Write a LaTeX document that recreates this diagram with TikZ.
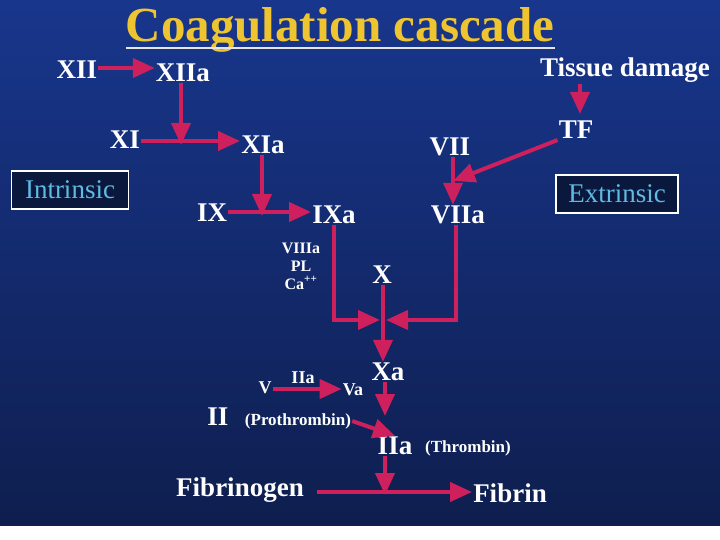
\documentclass[tikz,border=0pt]{standalone}
\usepackage{fontspec}
\setmainfont{Liberation Serif}
\usetikzlibrary{arrows.meta}

\definecolor{bgtop}{RGB}{24,54,140}
\definecolor{bgbot}{RGB}{14,30,78}
\definecolor{arrowred}{RGB}{205,32,92}
\definecolor{titlegold}{RGB}{238,196,48}
\definecolor{tagblue}{RGB}{96,186,226}
\definecolor{tagfill}{RGB}{10,24,62}

\tikzset{
  lab/.style={text=white, inner sep=1pt, font=\bfseries\fontsize{27}{29}\selectfont},
  sublab/.style={text=white, inner sep=1pt, font=\bfseries\fontsize{18}{18}\selectfont},
  paren/.style={sublab, font=\bfseries\fontsize{17}{17}\selectfont},
  tag/.style={draw=white, line width=1.4pt, fill=tagfill, text=tagblue, inner sep=0pt,
    minimum height=38pt, font=\fontsize{27}{27}\selectfont},
  link/.style={draw=arrowred, line width=4pt},
  flow/.style={link, -{Triangle[length=22pt,width=19pt]}}
}

\begin{document}
\begin{tikzpicture}[x=1pt,y=-1pt]
\useasboundingbox (0,0) rectangle (720,540);
\shade[top color=bgtop, bottom color=bgbot] (0,0) rectangle (720,525);

% title
\node (title) [anchor=base, text=titlegold, inner sep=0pt, font=\bfseries\fontsize{49}{49}\selectfont] at (340,42) {Coagulation cascade};
\draw[white!80!gray, line width=1.5pt] (126,48) -- (555,48);

% intrinsic side
\node (xii) [lab] at (77,70) {XII};
\node (xiia) [lab] at (183,73) {XIIa};
\node (xi) [lab] at (125,140) {XI};
\node (xia) [lab] at (263,145) {XIa};
\node (ix) [lab] at (212,213) {IX};
\node (ixa) [lab] at (334,215) {IXa};
\node (intr) [tag, minimum width=117pt] at (70,190) {Intrinsic};

% extrinsic side
\node (tissue) [lab] at (625,70) {Tissue damage};
\node (tf) [lab] at (576,130) {TF};
\node (vii) [lab] at (450,147) {VII};
\node (viia) [lab] at (458,215) {VIIa};
\node (extr) [tag, minimum width=122pt] at (617,194) {Extrinsic};

% cofactors
\node (cofac) [sublab, align=center, font=\bfseries\fontsize{16}{18}\selectfont] at (301,266) {VIIIa\\PL\\Ca\textsuperscript{++}};

% common pathway
\node (x) [lab] at (382,275) {X};
\node (xa) [lab] at (388,372) {Xa};
\node (v) [sublab] at (265,388) {V};
\node (iiacat) [sublab] at (303,378) {IIa};
\node (va) [sublab] at (353,390) {Va};
\node (ii) [lab] at (218,417) {II};
\node (prot) [paren] at (298,421) {(Prothrombin)};
\node (iia) [lab] at (395,446) {IIa};
\node (thromb) [paren] at (468,448) {(Thrombin)};
\node (fibgen) [lab] at (240,490) {Fibrinogen};
\node (fibrin) [lab] at (510,493) {Fibrin};

% meeting points
\coordinate (j1) at (181,141);
\coordinate (j2) at (262,212);
\coordinate (j3) at (453,181);
\coordinate (meet) at (383,320);
\coordinate (j4) at (385,492);

\draw [flow] (xii.east |- 0,68) -- (xiia.west |- 0,68);
\draw [flow] (xi.east |- j1) -- (xia.west |- j1);
\draw [flow] (xiia.south -| j1) -- ([yshift=-4pt]j1);
\draw [flow] (ix.east |- j2) -- (ixa.west |- j2);
\draw [flow] (xia.south -| j2) -- ([yshift=-4pt]j2);

\draw [flow] (tissue.south -| 580,0) -- (580,114);
\draw [flow] (tf.south west) -- (j3);
\draw [flow] (vii.south -| j3) -- (viia.north -| j3);

\draw [flow] (ixa.south) |- ([xshift=-3pt]meet);
\draw [flow] (viia.south -| 456,0) |- ([xshift=3pt]meet);
\draw [flow] (x.south -| meet) -- (xa.north -| meet);

\draw [flow] (v.east |- 0,389) -- (va.west |- 0,389);
\draw [flow] (xa.south -| 385,0) -- (385,416);
\draw [flow] (prot.east) -- (iia.north);
\draw [flow] (iia.south -| j4) -- ([yshift=-3pt]j4);
\draw [flow] (fibgen.east |- j4) ++(12,0) -- (fibrin.west |- j4);

\end{tikzpicture}
\end{document}
